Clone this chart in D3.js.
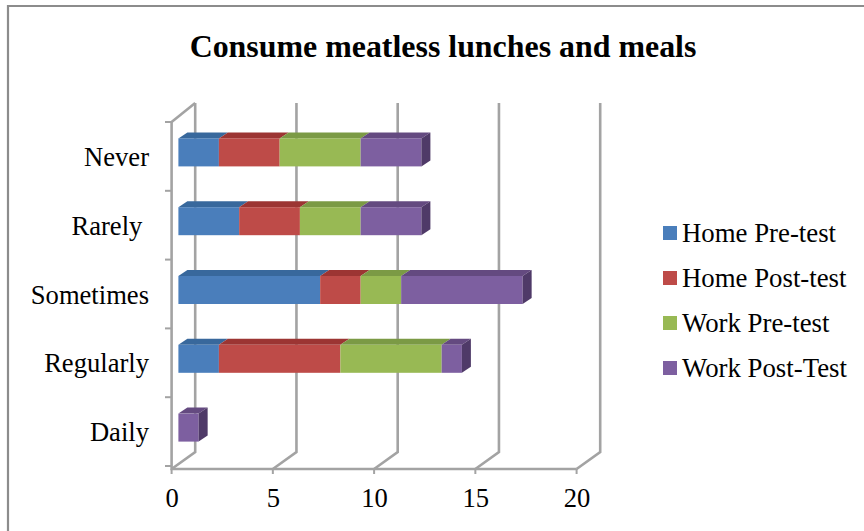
<!DOCTYPE html>
<html><head><meta charset="utf-8">
<script src="https://cdn.jsdelivr.net/npm/d3@7/dist/d3.min.js"></script>
<style>html,body{margin:0;padding:0;background:#fff;overflow:hidden}svg{display:block}text{font-family:"Liberation Serif",serif;fill:#000;white-space:pre}</style>
</head><body><svg id="c" width="864" height="531"></svg>
<script>
const categories = ["Never","Rarely ","Sometimes","Regularly","Daily"];
const seriesNames = ["Home Pre-test","Home Post-test","Work Pre-test","Work Post-Test"];
const homePre  = [2,3,7,2,0];
const homePost = [3,3,2,6,0];
const workPre  = [4,3,2,5,0];
const workPost = [3,3,6,1,1];
const xTicks = [0,5,10,15,20];
const colors = ["#4a7ebb","#be4b48","#98b954","#7d5fa0"];
const topColors = ["#38689c","#9c3533","#7b9a45","#644a80"];
const sideColors = ["#2f5680","#7f2f2d","#657d37","#4f3a68"];
const gridColor = "#a3a3a3";

const svg = d3.select("#c");
svg.append("path").attr("d","M8,540L8,6L870,6").attr("fill","none").attr("stroke","#8c8c8c").attr("stroke-width",2.2);
svg.append("text").attr("x",443).attr("y",57).attr("text-anchor","middle").attr("font-weight","bold").attr("font-size",31.9).text("Consume meatless lunches and meals");

const x = d3.scaleLinear().domain([0,20]).range([171.6,576.6]);
const y = d3.scaleBand().domain(categories).range([122,466]);
const floorY = 469, wallTop = 103;
const wallDx = 23.6, wallDy = -17;
const barDx = 6.8, barDy = -3.8, depthX = 9, depthY = -6, barH = 28;

const grid = svg.append("g").attr("fill","none").attr("stroke",gridColor).attr("stroke-width",2.6);
xTicks.forEach(t=>{
  const px=x(t);
  grid.append("path").attr("d",`M${px},${floorY}L${px+wallDx},${floorY+wallDy}L${px+wallDx},${wallTop}`);
});
grid.append("path").attr("d",`M${x(0)},122L${x(0)+wallDx},${wallTop}`);
grid.append("path").attr("d",`M${x(0)},122L${x(0)},${floorY}L${x(20)},${floorY}`);

const tickG = svg.append("g").attr("stroke",gridColor).attr("stroke-width",2);
categories.forEach((c,i)=>{
  const py = y(c);
  tickG.append("line").attr("x1",165).attr("x2",172).attr("y1",py).attr("y2",py);
});
tickG.append("line").attr("x1",165).attr("x2",172).attr("y1",y.range()[1]).attr("y2",y.range()[1]);
xTicks.forEach(t=>tickG.append("line").attr("x1",x(t)).attr("x2",x(t)).attr("y1",floorY).attr("y2",floorY+5));

const rows = categories.map((c,i)=>({cat:c,s0:homePre[i],s1:homePost[i],s2:workPre[i],s3:workPost[i]}));
const stack = d3.stack().keys(["s0","s1","s2","s3"])(rows);
const bars = svg.append("g");
stack.forEach((layer,k)=>{
  layer.forEach((d,i)=>{
    if(d[1]===d[0]) return;
    const x0=x(d[0])+barDx, x1=x(d[1])+barDx;
    const top=y(categories[i])+y.bandwidth()/2-barH/2+barDy-0.2;
    const g=bars.append("g");
    g.append("path").attr("fill",topColors[k]).attr("d",`M${x0},${top}L${x0+depthX},${top+depthY}L${x1+depthX},${top+depthY}L${x1},${top}Z`);
    g.append("rect").attr("x",x0).attr("y",top).attr("width",x1-x0).attr("height",barH).attr("fill",colors[k]);
    if(k===3) g.append("path").attr("fill",sideColors[k]).attr("d",`M${x1},${top}L${x1+depthX},${top+depthY}L${x1+depthX},${top+depthY+barH}L${x1},${top+barH}Z`);
  });
});

const yAxis = svg.append("g").attr("transform","translate(149,0)").call(d3.axisLeft(y).tickSize(0).tickPadding(0));
yAxis.select(".domain").remove();
yAxis.selectAll("text").attr("dy",null).attr("y",9.5).attr("x",0).attr("font-size",26.6);
yAxis.attr("font-family",null);

const xAxis = svg.append("g").attr("transform","translate(0,507)").call(d3.axisBottom(x).tickValues(xTicks).tickSize(0).tickPadding(0));
xAxis.select(".domain").remove();
xAxis.selectAll("text").attr("dy",null).attr("y",0).attr("font-size",26.6);
xAxis.attr("font-family",null);

seriesNames.forEach((n,i)=>{
  const ly=233+i*45;
  svg.append("rect").attr("x",663).attr("y",ly-7).attr("width",14).attr("height",14).attr("fill",colors[i]);
  svg.append("text").attr("x",682).attr("y",ly+9).attr("font-size",26.8).text(n);
});
</script></body></html>
